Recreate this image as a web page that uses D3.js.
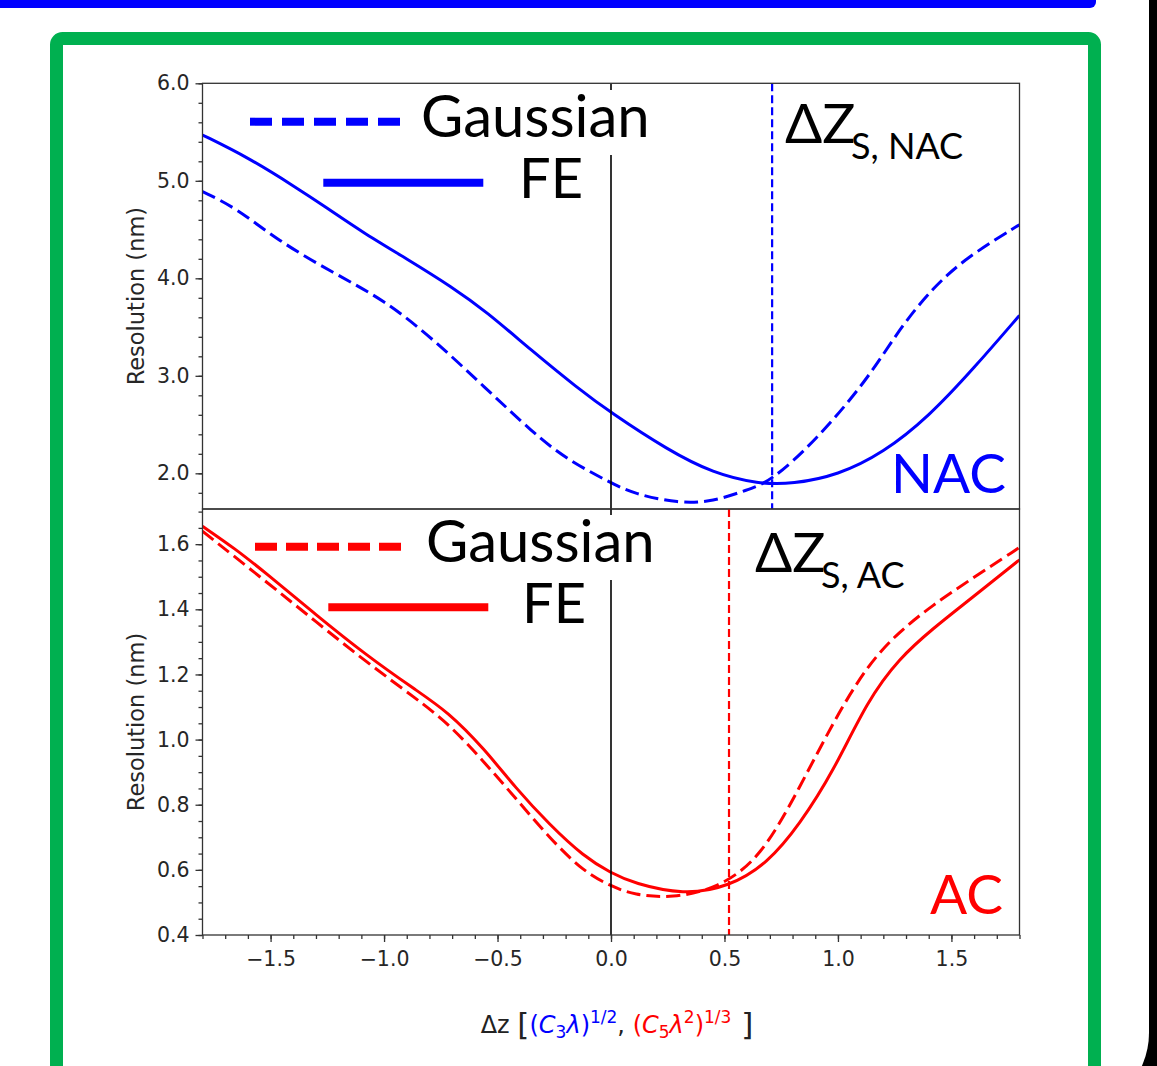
<!DOCTYPE html>
<html>
<head>
<meta charset="utf-8">
<title>Resolution vs defocus (NAC / AC)</title>
<script src="https://d3js.org/d3.v7.min.js"></script>
<style>
  body { margin: 0; background: #fff; }
  svg { display: block; }
</style>
</head>
<body>
<script>
// ---- values ----
// NAC panel (blue)
var nacFE_x  = [-1.8, -1.6, -1.4, -1.25, -1.1, -0.9, -0.7, -0.55, -0.35, -0.15, 0.0, 0.25, 0.45, 0.65, 0.8, 1.0, 1.2, 1.4, 1.6, 1.8];
var nacFE_y  = [5.47, 5.24, 4.95, 4.72, 4.48, 4.20, 3.91, 3.66, 3.26, 2.88, 2.62, 2.24, 2.00, 1.89, 1.89, 1.98, 2.21, 2.58, 3.08, 3.62];
var nacGau_x = [-1.8, -1.65, -1.47, -1.22, -1.0, -0.78, -0.56, -0.34, -0.2, 0.0, 0.1, 0.3, 0.45, 0.6, 0.7, 0.9, 1.13, 1.27, 1.42, 1.57, 1.8];
var nacGau_y = [4.89, 4.72, 4.39, 4.05, 3.78, 3.37, 2.89, 2.41, 2.15, 1.90, 1.79, 1.69, 1.71, 1.83, 1.91, 2.33, 2.96, 3.48, 3.91, 4.22, 4.55];
var nacMark  = 0.71;

// AC panel (red)
var acFE_x  = [-1.8, -1.66, -1.52, -1.3, -1.08, -0.86, -0.72, -0.56, -0.42, -0.27, -0.12, 0.0, 0.1, 0.32, 0.52, 0.69, 0.83, 0.98, 1.13, 1.27, 1.42, 1.57, 1.8];
var acFE_y  = [1.655, 1.588, 1.511, 1.383, 1.260, 1.152, 1.086, 0.973, 0.851, 0.738, 0.641, 0.590, 0.559, 0.523, 0.548, 0.620, 0.738, 0.902, 1.120, 1.250, 1.342, 1.424, 1.552];
var acGau_x = [-1.8, -1.52, -1.3, -1.08, -0.86, -0.71, -0.56, -0.42, -0.27, -0.12, 0.0, 0.1, 0.27, 0.47, 0.66, 0.83, 0.98, 1.13, 1.27, 1.42, 1.57, 1.8];
var acGau_y = [1.640, 1.485, 1.362, 1.239, 1.127, 1.045, 0.932, 0.820, 0.697, 0.594, 0.550, 0.523, 0.513, 0.543, 0.636, 0.851, 1.055, 1.229, 1.332, 1.414, 1.485, 1.590];
var acMark  = 0.52;

// ticks
var xTicks      = [-1.5, -1.0, -0.5, 0.0, 0.5, 1.0, 1.5];
var xTickLabels = ["\u22121.5", "\u22121.0", "\u22120.5", "0.0", "0.5", "1.0", "1.5"];
var yTicksNAC   = [2.0, 3.0, 4.0, 5.0, 6.0];
var yTicksAC    = [0.4, 0.6, 0.8, 1.0, 1.2, 1.4, 1.6];

var W = 1157, H = 1066;
var BLUE = "#0000ff", RED = "#ff0000", GREEN = "#00b050";
var TICKFONT = "DejaVu Sans, sans-serif";
var BIGFONT = "Lato, 'Open Sans', sans-serif";

var svg = d3.select("body").append("svg")
  .attr("width", W)
  .attr("height", H);

// ---- slide background pieces ----
svg.append("rect").attr("width", W).attr("height", H).attr("fill", "#000");
svg.append("path")
  .attr("d", "M0,0 H1149 V1033 A80,80 0 0 1 1069,1113 H0 Z")
  .attr("fill", "#fff");
svg.append("rect")
  .attr("x", -20).attr("y", -20).attr("width", 1116).attr("height", 28)
  .attr("rx", 6).attr("fill", BLUE);
svg.append("rect")
  .attr("x", 56.5).attr("y", 38.5).attr("width", 1038).attr("height", 1100)
  .attr("rx", 6).attr("fill", "none")
  .attr("stroke", GREEN).attr("stroke-width", 13);

// ---- scales ----
var plotL = 202.5, plotR = 1019.5;
var x = d3.scaleLinear().domain([-1.8, 1.8]).range([plotL, plotR]);

var panels = [
  { top: 83.3, bottom: 509, dom: [1.634, 6.0], ticks: yTicksNAC, minorStep: 0.2, fmt: d3.format(".1f"),
    fe: [nacFE_x, nacFE_y], gau: [nacGau_x, nacGau_y], mark: nacMark, color: BLUE,
    name: "NAC", nameX: 1006, nameY: 492.7, sub: "S, NAC",
    dz: { x: 785, y: 143.3, sx: 851, sy: 159.3 },
    leg: { dx0: 250, dx1: 401.7, dy: 121.7, sx0: 323.3, sx1: 483.3, sy: 182.7,
           gx: 421, gy: 137, fx: 519, fy: 198.3, box: [415, 90, 247, 65] },
    dash: "22,10", xaxis: false },
  { top: 509, bottom: 935, dom: [0.4, 1.708], ticks: yTicksAC, minorStep: 0.05, fmt: d3.format(".1f"),
    fe: [acFE_x, acFE_y], gau: [acGau_x, acGau_y], mark: acMark, color: RED,
    name: "AC", nameX: 1003, nameY: 914.3, sub: "S, AC",
    dz: { x: 755, y: 571.7, sx: 821, sy: 588.3 },
    leg: { dx0: 255, dx1: 406.7, dy: 546.7, sx0: 328.3, sx1: 488.3, sy: 607.3,
           gx: 426, gy: 562.3, fx: 522, fy: 623.3, box: [420, 515, 247, 65] },
    dash: "22,9", xaxis: true }
];

panels.forEach(function(p, k) {
  var y = d3.scaleLinear().domain(p.dom).range([p.bottom, p.top]);
  var g = svg.append("g");

  var clipId = "clip" + k;
  svg.append("clipPath").attr("id", clipId)
    .append("rect")
    .attr("x", plotL).attr("y", p.top)
    .attr("width", plotR - plotL).attr("height", p.bottom - p.top);

  var plot = g.append("g").attr("clip-path", "url(#" + clipId + ")");

  var line = d3.line()
    .x(function(d) { return x(d[0]); })
    .y(function(d) { return y(d[1]); })
    .curve(d3.curveBasis);

  // Gaussian (dashed) then FE (solid)
  plot.append("path")
    .attr("d", line(d3.zip(p.gau[0], p.gau[1])))
    .attr("fill", "none").attr("stroke", p.color)
    .attr("stroke-width", 3).attr("stroke-dasharray", "14,6");
  plot.append("path")
    .attr("d", line(d3.zip(p.fe[0], p.fe[1])))
    .attr("fill", "none").attr("stroke", p.color)
    .attr("stroke-width", 3);

  // zero line and the dZs marker
  plot.append("line")
    .attr("x1", x(0)).attr("x2", x(0))
    .attr("y1", p.top).attr("y2", p.bottom)
    .attr("stroke", "#000").attr("stroke-width", 1.6);
  plot.append("line")
    .attr("x1", x(p.mark)).attr("x2", x(p.mark))
    .attr("y1", p.top).attr("y2", p.bottom)
    .attr("stroke", p.color).attr("stroke-width", 2.2)
    .attr("stroke-dasharray", "8,4");

  // legend (white box sits behind "Gaussian")
  var L = p.leg;
  g.append("rect")
    .attr("x", L.box[0]).attr("y", L.box[1])
    .attr("width", L.box[2]).attr("height", L.box[3])
    .attr("fill", "#fff");
  g.append("line")
    .attr("x1", L.dx0).attr("x2", L.dx1).attr("y1", L.dy).attr("y2", L.dy)
    .attr("stroke", p.color).attr("stroke-width", 8)
    .attr("stroke-dasharray", p.dash);
  g.append("line")
    .attr("x1", L.sx0).attr("x2", L.sx1).attr("y1", L.sy).attr("y2", L.sy)
    .attr("stroke", p.color).attr("stroke-width", 8);
  g.append("text")
    .attr("x", L.gx).attr("y", L.gy)
    .attr("font-family", BIGFONT).attr("font-size", 58).attr("fill", "#000")
    .text("Gaussian");
  g.append("text")
    .attr("x", L.fx).attr("y", L.fy)
    .attr("font-family", BIGFONT).attr("font-size", 56).attr("fill", "#000")
    .text("FE");

  // ΔZ_s annotation
  g.append("text")
    .attr("x", p.dz.x).attr("y", p.dz.y)
    .attr("font-family", BIGFONT).attr("font-size", 55).attr("fill", "#000")
    .text("\u0394Z");
  g.append("text")
    .attr("x", p.dz.sx).attr("y", p.dz.sy)
    .attr("font-family", BIGFONT).attr("font-size", 36).attr("fill", "#000")
    .text(p.sub);

  // panel name
  g.append("text")
    .attr("x", p.nameX).attr("y", p.nameY)
    .attr("text-anchor", "end")
    .attr("font-family", BIGFONT).attr("font-size", 55).attr("fill", p.color)
    .text(p.name);

  // y axis: major + minor
  var minor = d3.range(Math.ceil(p.dom[0] / p.minorStep - 1e-6), Math.floor(p.dom[1] / p.minorStep + 1e-6) + 1)
    .map(function(i) { return +(i * p.minorStep).toFixed(3); });

  var yMinor = g.append("g").attr("transform", "translate(" + plotL + ",0)")
    .call(d3.axisLeft(y).tickValues(minor).tickSize(4).tickFormat(""));
  var yMajor = g.append("g").attr("transform", "translate(" + plotL + ",0)")
    .call(d3.axisLeft(y).tickValues(p.ticks).tickSize(7).tickPadding(6).tickFormat(p.fmt));
  [yMinor, yMajor].forEach(function(a) {
    a.select(".domain").remove();
    a.selectAll("line").attr("stroke", "#333").attr("stroke-width", 1.3);
  });
  yMajor.selectAll("text")
    .attr("font-family", TICKFONT).attr("font-size", 20.5).attr("fill", "#262626");

  if (p.xaxis) {
    var xMinor = d3.range(-18, 19).map(function(i) { return i / 10; });
    var xm = g.append("g").attr("transform", "translate(0," + p.bottom + ")")
      .call(d3.axisBottom(x).tickValues(xMinor).tickSize(4).tickFormat(""));
    var xM = g.append("g").attr("transform", "translate(0," + p.bottom + ")")
      .call(d3.axisBottom(x).tickValues(xTicks).tickSize(7).tickPadding(9)
        .tickFormat(function(d, i) { return xTickLabels[i]; }));
    [xm, xM].forEach(function(a) {
      a.select(".domain").remove();
      a.selectAll("line").attr("stroke", "#333").attr("stroke-width", 1.3);
    });
    xM.selectAll("text")
      .attr("font-family", TICKFONT).attr("font-size", 20.5).attr("fill", "#262626");
  }

  // spines
  g.append("rect")
    .attr("x", plotL).attr("y", p.top)
    .attr("width", plotR - plotL).attr("height", p.bottom - p.top)
    .attr("fill", "none").attr("stroke", "#333").attr("stroke-width", 1.3);

  // y label
  g.append("text")
    .attr("transform", "translate(144," + ((p.top + p.bottom) / 2) + ") rotate(-90)")
    .attr("text-anchor", "middle")
    .attr("font-family", TICKFONT).attr("font-size", 22.5).attr("fill", "#262626")
    .text("Resolution (nm)");
});

// ---- x label with mathtext-like pieces ----
var labelParts = [
  { t: "\u0394z ", s: 24, c: "#222" },
  { t: "[", s: 31, c: "#222", dy: 2 },
  { t: "(", s: 24, c: BLUE, dy: -2 },
  { t: "C", s: 24, c: BLUE, it: true },
  { t: "3", s: 17, c: BLUE, dy: 5 },
  { t: "\u03bb", s: 24, c: BLUE, it: true, dy: -5 },
  { t: ")", s: 24, c: BLUE },
  { t: "1/2", s: 17, c: BLUE, dy: -10 },
  { t: ", ", s: 24, c: "#222", dy: 10 },
  { t: "(", s: 24, c: RED },
  { t: "C", s: 24, c: RED, it: true },
  { t: "5", s: 17, c: RED, dy: 5 },
  { t: "\u03bb", s: 24, c: RED, it: true, dy: -5 },
  { t: "2", s: 17, c: RED, dy: -10 },
  { t: ")", s: 24, c: RED, dy: 10 },
  { t: "1/3", s: 17, c: RED, dy: -10 },
  { t: " ]", s: 31, c: "#222", dy: 12 }
];
var xl = svg.append("text")
  .attr("x", x(0) + 6).attr("y", 1033)
  .attr("text-anchor", "middle")
  .attr("font-family", TICKFONT);
labelParts.forEach(function(d) {
  xl.append("tspan")
    .attr("font-size", d.s)
    .attr("fill", d.c)
    .attr("font-style", d.it ? "italic" : "normal")
    .attr("dy", d.dy || 0)
    .text(d.t);
});
</script>
</body>
</html>
